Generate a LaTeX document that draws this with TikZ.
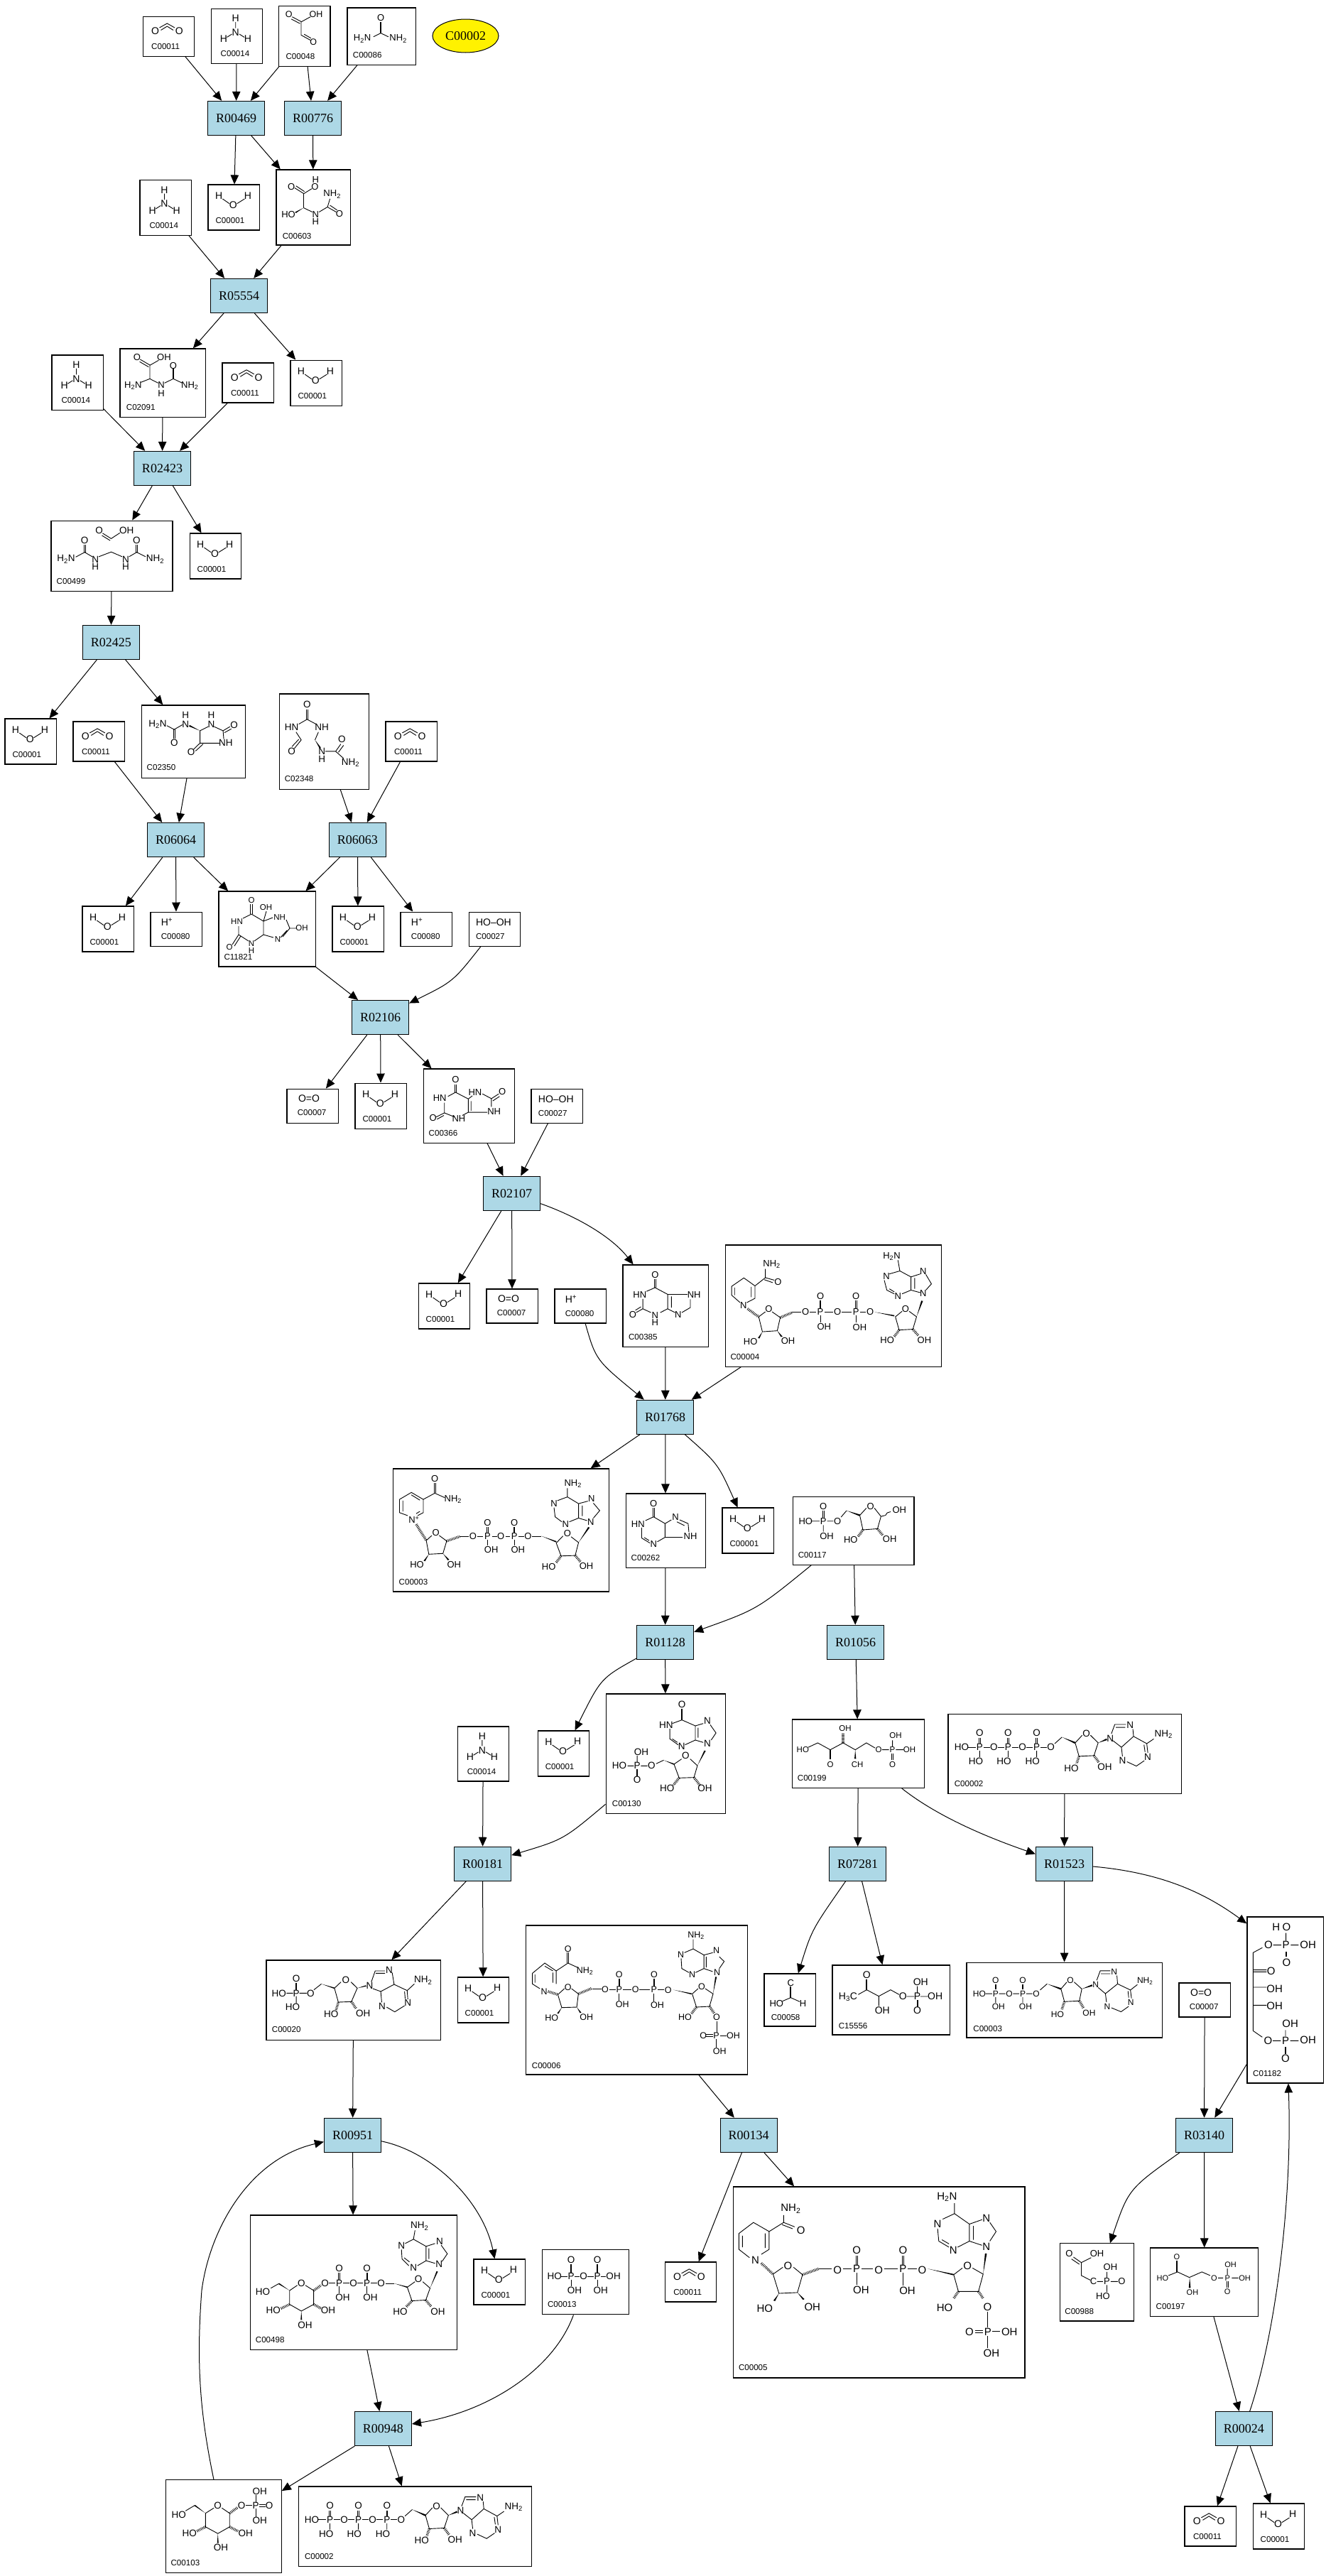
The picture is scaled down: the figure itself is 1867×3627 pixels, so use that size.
\documentclass[tikz,border=0pt]{standalone}
\usepackage{fontspec}
\setmainfont{Liberation Sans}
\newfontfamily\rfont{Liberation Serif}
\usetikzlibrary{arrows.meta,calc,shapes.geometric}
\definecolor{rxnblue}{RGB}{173,216,230}
\newcounter{atomc}
\def\afs{13}
\tikzset{
 cbox/.style={draw=black,line width=1.2pt,fill=white,inner sep=0pt,anchor=north west},
 rbox/.style={draw=black,line width=1.2pt,fill=rxnblue,anchor=center,minimum width=80pt,minimum height=48pt,inner sep=0pt,font=\rfont\fontsize{18}{18}\selectfont},
 clab/.style={anchor=west,inner sep=0pt,font=\fontsize{11.6}{12}\selectfont},
 atomtxt/.style={inner sep=0pt,font=\fontsize{\afs}{\afs}\selectfont},
 bond/.style={draw=black,line width=.9pt},
 hashb/.style={draw=black,line width=3.6pt,dash pattern=on .8pt off 1.3pt},
 conn/.style={draw=black,line width=1pt,-{Triangle[length=13pt,width=11.5pt]}},
 zm/.style n args={4}{shift={(#1,#2)},xscale=#3,yscale=#4}
}
\newcommand\T[3]{\stepcounter{atomc}\node[atomtxt] (atm\arabic{atomc}) at (#1,#2) {#3};}
\newcommand\B[1]{\draw[bond] #1;}
\newcommand\Dv[3]{\draw[bond] ([xshift=-1.6pt]#1,#2)--([xshift=-1.6pt]#1,#3) ([xshift=1.6pt]#1,#2)--([xshift=1.6pt]#1,#3);}
\newcommand\W[4]{\fill[black] (#1,#2) -- ($(#3,#4)!2.4pt!90:(#1,#2)$) -- ($(#3,#4)!2.4pt!-90:(#1,#2)$) -- cycle;}
\newcommand\Hs[4]{\draw[hashb] (#1,#2)--(#3,#4);}
\newcommand\E[2]{\draw[conn] (#1) -- (#2);}
\newcommand\boxat[8]{%
 \node[cbox,minimum width=#4pt,minimum height=#5pt] (#1) at (#2,#3) {};
 \node[clab] (#1-l) at ([xshift=#6pt,yshift=#7pt]#1.south west) {#8};}
\newcommand\rxn[3]{\node[rbox] (#1) at (#2,#3) {#1};}
\newcommand\water[3]{\boxat{#1}{#2}{#3}{72.3}{64}{11}{14.2}{C00001}
 \begin{scope}[shift={(#1.north west)}]\def\afs{14}
 \T{15.7}{16.2}{H}\T{36}{29}{O}\T{56.6}{15.8}{H}
 \B{(21,20.6)--(30.6,27.3) (41.3,27.3)--(52,20.6)}
 \end{scope}}
\newcommand\cotwo[3]{\boxat{#1}{#2}{#3}{72.3}{56}{12.5}{14.3}{C00011}
 \begin{scope}[shift={(#1.north west)}]\def\afs{14}
 \T{18}{21}{O}\T{51.7}{21}{O}
 \B{(24,16.5)--(34.8,10.5)--(45.5,16.5) (26,20)--(34.8,14.5) (34.8,14.5)--(43.5,20)}
 \end{scope}}
\newcommand\nhthree[5]{\boxat{#1}{#2}{#3}{#4}{#5}{14}{14}{C00014}
 \begin{scope}[shift={(#1.north west)}]\def\afs{14}
 \T{35.2}{14.6}{H}\T{35.2}{34}{N}\T{18.4}{43.5}{H}\T{52.4}{43.5}{H}
 \B{(35.2,19.5)--(35.2,28) (30,36.5)--(23,41) (40.5,36.5)--(47.5,41)}
 \end{scope}}
\newcommand\hplus[3]{\boxat{#1}{#2}{#3}{72.3}{48}{15.3}{14.5}{C00080}
 \node[atomtxt,anchor=west,font=\fontsize{14}{14}\selectfont] (#1-m) at ([xshift=15.3pt,yshift=-14.7pt]#1.north west) {H\textsuperscript{+}};}
\newcommand\perox[3]{\boxat{#1}{#2}{#3}{72.3}{48}{10.3}{14.5}{C00027}
 \node[atomtxt,anchor=west,font=\fontsize{14}{14}\selectfont] (#1-m) at ([xshift=10.3pt,yshift=-14.7pt]#1.north west) {HO--OH};}
\newcommand\oxyg[3]{\boxat{#1}{#2}{#3}{72.3}{48}{15.3}{15}{C00007}
 \node[atomtxt,anchor=west,font=\fontsize{14}{14}\selectfont] (#1-m) at ([xshift=16.5pt,yshift=-14.5pt]#1.north west) {O=O};}
\newcommand\atp[2]{\begin{scope}[zm={#1}{#2}{.4892}{.5102}]\def\afs{13.5}
 \T{571}{706}{O}\T{653}{706}{O}\T{735}{706}{O}\T{519}{745}{HO}\T{571}{745}{P}\T{612}{745}{O}\T{653}{745}{P}\T{694}{745}{O}\T{735}{745}{P}\T{776}{745}{O}
 \T{560}{784}{HO}\T{641}{784}{HO}\T{723}{784}{HO}\T{878}{708}{O}\T{947}{720}{N}\T{1004}{684}{N}\T{1100}{710}{NH\textsubscript{2}}\T{1055}{772}{N}\T{982}{782}{N}\T{835}{803}{HO}\T{931}{800}{OH}
 \Dv{571}{720}{735}\Dv{653}{720}{735}\Dv{735}{720}{735}
 \B{(537,745)--(560,745) (582,745)--(600,745) (623,745)--(642,745) (664,745)--(682,745) (705,745)--(724,745) (746,745)--(765,745)}
 \B{(571,755)--(571,772) (653,755)--(653,772) (735,755)--(735,772) (787,735)--(808,717)}
 \W{808}{717}{846}{733}
 \B{(846,733)--(866,712) (890,712)--(912,733)--(900,768)--(857,770)--(846,733)}
 \Hs{857}{770}{850}{790}\Hs{900}{768}{915}{788}\W{912}{733}{937}{723}
 \B{(950,708)--(960,682)--(992,682) (963,690)--(990,690) (1012,695)--(1014,715) (955,727)--(979,745)--(1014,715)--(1052,735)--(1055,760) (1044,738)--(1047,758) (1045,782)--(1022,797)--(995,785) (979,745)--(982,770) (1052,735)--(1072,722)}
 \end{scope}}
\begin{document}
\begin{tikzpicture}[x=1pt,y=-1pt]
\useasboundingbox (0,0) rectangle (1867,3627);
\fill[white] (0,0) rectangle (1867,3627);
% ---------- reactions
\rxn{R00469}{332.5}{166.4}\rxn{R00776}{440.5}{166.4}\rxn{R05554}{336.6}{416.4}\rxn{R02423}{228.5}{659.4}
\rxn{R02425}{156.3}{904.4}\rxn{R06064}{247.5}{1182.5}\rxn{R06063}{503.4}{1182.5}\rxn{R02106}{535.6}{1432.6}
\rxn{R02107}{720.6}{1680.3}\rxn{R01768}{936.7}{1995.3}\rxn{R01128}{936.6}{2312.3}\rxn{R01056}{1204.7}{2312.3}
\rxn{R00181}{679.5}{2624.3}\rxn{R07281}{1207.6}{2624.4}\rxn{R01523}{1498.5}{2624.4}\rxn{R00951}{496.5}{3006.3}
\rxn{R00134}{1054.2}{3006.3}\rxn{R03140}{1695.5}{3006.3}\rxn{R00948}{539.4}{3419.5}\rxn{R00024}{1751.4}{3419.5}
\node[ellipse,draw=black,line width=1pt,fill=yellow,minimum width=93pt,minimum height=47pt,inner sep=0pt,font=\rfont\fontsize{18}{18}\selectfont] (c00002y) at (655.5,50.5) {C00002};
% ---------- small compounds
\cotwo{c00011a}{200.5}{22.5}\cotwo{c00011b}{312.3}{510.3}\cotwo{c00011c}{102.3}{1015.4}\cotwo{c00011d}{542.4}{1015.4}\cotwo{c00011e}{935.6}{3184.3}\cotwo{c00011f}{1667.4}{3528.3}
\nhthree{c00014a}{296.5}{11.5}{72.3}{77}\nhthree{c00014b}{196.3}{253}{72.3}{77.6}\nhthree{c00014d}{72.3}{499.3}{72.4}{77.4}\nhthree{c00014c}{643.6}{2430.3}{72}{77}
\water{c00001a}{292.4}{259.4}\water{c00001b}{408.3}{506.5}\water{c00001c}{266.5}{750.4}\water{c00001d}{6.3}{1011.4}\water{c00001e}{115.4}{1275.4}\water{c00001f}{467.3}{1275.4}\water{c00001g}{499.4}{1524.5}\water{c00001h}{588.5}{1806.3}\water{c00001i}{1016.4}{2122.4}\water{c00001j}{756.6}{2436.3}\water{c00001k}{643.5}{2783.3}\water{c00001l}{666.4}{3180.3}\water{c00001m}{1763.5}{3524.3}
\hplus{c00080a}{211.3}{1283.5}\hplus{c00080b}{563.4}{1283.5}\hplus{c00080c}{780.3}{1814.4}
\perox{c00027a}{659.5}{1283.5}\perox{c00027b}{747.4}{1532.5}
\oxyg{c00007a}{403.3}{1532.5}\oxyg{c00007b}{684.3}{1814.4}\oxyg{c00007c}{1659.4}{2791.4}
% ---------- boxes with structures
\boxat{c00048}{392}{7.5}{72.3}{85}{10.4}{14.5}{C00048}
\begin{scope}[zm={150}{0}{.3827}{.3954}]\def\afs{12.5}
\T{671}{52}{O}\T{771}{52}{OH}\T{761}{150}{O}
\B{(683,60)--(718,78) (680,68)--(712,84) (718,77)--(750,60) (716,77)--(716,125)--(750,143) (727,122)--(752,136)}
\end{scope}
\boxat{c00086}{488.3}{10.3}{96.4}{80.3}{8.4}{14.5}{C00086}
\begin{scope}[zm={150}{0}{.3827}{.3954}]\def\afs{13}
\T{1009}{64}{O}\T{941}{138}{H\textsubscript{2}N}\T{1073}{138}{NH\textsubscript{2}}
\Dv{1009}{78}{118}\B{(1009,118)--(982,131) (1009,118)--(1037,131)}
\end{scope}
\boxat{c00603}{388.4}{238.4}{104.1}{106}{9.2}{13.4}{C00603}
\begin{scope}[zm={150}{0}{.3827}{.3954}]\def\afs{13}
\T{769}{639}{H}\T{767}{664}{O}\T{680}{664}{O}\T{830}{692}{NH\textsubscript{2}}\T{669}{763}{HO}\T{769}{763}{N}\T{769}{790}{H}\T{857}{762}{O}
\B{(692,669)--(725,689) (697,662)--(728,682) (725,690)--(755,672) (725,690)--(725,740) (725,740)--(757,755) (782,755)--(813,737)--(822,708) (814,738)--(845,755) (822,731)--(848,748)}
\W{725}{740}{695}{757}
\end{scope}
\boxat{c02091}{168.3}{490.3}{120.4}{96.4}{9.4}{14.4}{C02091}
\begin{scope}[zm={50}{480}{.3333}{.3333}]\def\afs{13}
\T{429}{70}{O}\T{543}{70}{OH}\T{582}{104}{O}\T{412}{188}{H\textsubscript{2}N}\T{531}{187}{N}\T{531}{222}{H}\T{652}{188}{NH\textsubscript{2}}
\B{(442,78)--(483,102) (440,88)--(478,110) (483,103)--(520,82) (483,103)--(483,160)--(445,175) (483,160)--(518,178) (545,178)--(582,160)--(620,178)}
\Dv{582}{118}{160}
\end{scope}
\boxat{c00499}{71.3}{732.5}{171}{99}{8.2}{14.7}{C00499}
\begin{scope}[zm={0}{620}{.4847}{.4464}]\def\afs{13.5}
\T{288}{285}{O}\T{368}{285}{OH}\T{246}{315}{O}\T{397}{315}{O}\T{192}{375}{H\textsubscript{2}N}\T{277}{375}{N}\T{277}{399}{H}\T{365}{375}{N}\T{365}{399}{H}\T{451}{375}{NH\textsubscript{2}}
\B{(298,293)--(323,310)--(348,292) (296,300)--(320,316)}
\Dv{246}{330}{353}\Dv{397}{330}{353}
\B{(246,353)--(220,368) (246,353)--(268,367) (287,367)--(323,352)--(355,367) (375,367)--(397,353)--(423,367)}
\end{scope}
\boxat{c02350}{198.7}{992.3}{146}{102.3}{7.8}{15.6}{C02350}
\begin{scope}[zm={0}{620}{.4847}{.4464}]\def\afs{13.5}
\T{458}{895}{H\textsubscript{2}N}\T{539}{895}{N}\T{539}{867}{H}\T{614}{867}{H}\T{614}{895}{N}\T{680}{897}{O}\T{506}{955}{O}\T{656}{955}{NH}\T{555}{984}{O}
\B{(506,912)--(485,900) (506,912)--(530,897) (581,916)--(605,903) (622,903)--(648,916) (648,916)--(668,903) (652,922)--(672,910) (648,916)--(650,942) (637,955)--(581,955)--(581,916) (581,955)--(562,975) (590,958)--(568,980)}
\Dv{506}{912}{940}\W{581}{916}{550}{900}
\end{scope}
\boxat{c02348}{392.6}{976.3}{126}{134.3}{8}{15.6}{C02348}
\begin{scope}[zm={0}{620}{.4847}{.4464}]\def\afs{13.5}
\T{892}{833}{O}\T{847}{905}{HN}\T{935}{905}{NH}\T{847}{981}{O}\T{935}{981}{N}\T{935}{1005}{H}\T{993}{943}{O}\T{1018}{1017}{NH\textsubscript{2}}
\Dv{892}{848}{880}
\B{(892,880)--(868,895) (892,880)--(918,895) (860,920)--(875,945)--(855,972) (868,943)--(848,966) (925,920)--(915,945) (945,981)--(975,981)--(998,1003) (975,981)--(990,958) (983,984)--(998,962)}
\W{915}{945}{930}{970}
\end{scope}
\boxat{c11821}{307.3}{1254.4}{136.2}{106}{8}{14.5}{C11821}
\begin{scope}\def\afs{11.5}
\T{354}{1267.7}{O}\T{374.6}{1277.6}{OH}\T{393.6}{1291.8}{NH}\T{333.5}{1297.6}{HN}\T{425}{1307}{OH}\T{391}{1322.8}{N}\T{354}{1329}{N}\T{354}{1339}{H}\T{323}{1334}{O}
\Dv{354}{1273}{1287}
\B{(354,1287)--(342,1293) (354,1287)--(371,1297) (371,1297)--(375,1283) (371,1297)--(384,1292) (371,1297)--(371,1316) (403,1295)--(408,1307) (408,1307)--(417,1307) (408,1307)--(398,1319) (404,1310)--(395,1320) (385,1320)--(371,1316)--(358,1325) (350,1325)--(336,1316)--(336,1304) (336,1316)--(327,1330) (339,1318)--(330,1332)}
\end{scope}
\boxat{c00366}{595.5}{1504.4}{128.2}{104.1}{8}{14.7}{C00366}
\begin{scope}[zm={380}{1200}{.3827}{.4464}]\def\afs{13}
\T{683}{717}{O}\T{625}{775}{HN}\T{755}{757}{HN}\T{855}{755}{O}\T{825}{817}{NH}\T{600}{838}{O}\T{695}{840}{NH}
\Dv{683}{732}{757}
\B{(683,757)--(655,770) (683,757)--(730,778)--(730,820)--(800,820) (740,785)--(740,815) (730,778)--(745,768) (782,762)--(815,777)--(815,803) (815,777)--(842,762) (820,784)--(845,770) (730,820)--(708,830) (680,835)--(642,822)--(642,790) (642,822)--(612,835) (640,830)--(615,842)}
\end{scope}
\boxat{c00385}{876.4}{1780.3}{120.3}{115.2}{8.4}{14.4}{C00385}
\begin{scope}[zm={540}{1720}{.523}{.3508}]\def\afs{13}
\T{731}{214}{O}\T{690}{294}{HN}\T{836}{294}{NH}\T{671}{373}{O}\T{731}{375}{N}\T{731}{405}{H}\T{793}{373}{N}
\Dv{731}{230}{265}
\B{(731,265)--(708,280) (731,265)--(765,292)--(765,350) (775,300)--(775,345) (765,292)--(818,292) (765,350)--(745,365) (720,365)--(698,350)--(698,310) (698,350)--(680,365) (693,342)--(678,356) (765,350)--(785,365) (803,365)--(826,345)--(826,312)}
\end{scope}
\boxat{c00004}{1020.6}{1752.3}{304}{171.2}{7.8}{14.4}{C00004}
\begin{scope}[zm={540}{1720}{.523}{.3508}]\def\afs{13}
\T{1045}{172}{NH\textsubscript{2}}\T{1062}{242}{O}\T{1368}{140}{H\textsubscript{2}N}\T{1354}{220}{N}\T{1453}{200}{N}\T{1385}{300}{N}\T{1453}{288}{N}\T{969}{335}{N}\T{1037}{352}{O}\T{1136}{362}{O}\T{1176}{362}{P}\T{1176}{300}{O}\T{1186}{423}{OH}\T{1222}{362}{O}\T{1272}{362}{P}\T{1272}{300}{O}\T{1282}{425}{OH}\T{1310}{362}{O}\T{1405}{350}{O}\T{988}{483}{HO}\T{1089}{479}{OH}\T{1356}{476}{HO}\T{1456}{476}{OH}
\B{(937,260)--(970,226)--(1000,258)--(1000,308)--(978,325) (960,325)--(937,295)--(937,260) (945,265)--(945,295) (990,262)--(990,303) (1000,258)--(1028,225)--(1028,190) (1028,225)--(1052,235) (1025,233)--(1048,245)}
\Hs{980}{350}{1010}{382}
\B{(1010,382)--(1028,362) (1046,362)--(1068,385)--(1060,438)--(1020,442)--(1010,382)}
\W{1020}{442}{1010}{468}\W{1060}{438}{1072}{462}\Hs{1068}{385}{1100}{365}
\B{(1100,362)--(1125,362) (1148,362)--(1165,362) (1187,362)--(1210,362) (1234,362)--(1260,362) (1283,362)--(1298,362) (1176,375)--(1176,405) (1272,375)--(1272,405)}
\Dv{1176}{315}{350}\Dv{1272}{315}{350}
\W{1322}{363}{1375}{378}
\B{(1378,382)--(1396,360) (1415,360)--(1435,382)--(1425,432)--(1388,435)--(1378,382)}
\W{1435}{382}{1450}{318}\Hs{1388}{435}{1375}{462}\Hs{1425}{432}{1440}{458}
\B{(1390,198)--(1385,155) (1390,198)--(1420,222)--(1420,275)--(1396,290) (1390,198)--(1362,210) (1348,235)--(1355,275)--(1375,290) (1420,222)--(1445,210) (1460,212)--(1475,250)--(1460,275) (1420,275)--(1445,285) (1430,226)--(1430,270) (1362,270)--(1375,282)}
\end{scope}
\boxat{c00003a}{552.6}{2067.3}{304}{173}{8.9}{14.4}{C00003}
\begin{scope}[zm={540}{1720}{.523}{.3508}]\def\afs{13}
\T{138}{1033}{O}\T{187}{1115}{NH\textsubscript{2}}\T{82}{1197}{N\textsuperscript{+}}\T{510}{1052}{NH\textsubscript{2}}\T{459}{1133}{N}\T{560}{1113}{N}\T{490}{1215}{N}\T{558}{1207}{N}\T{141}{1248}{O}\T{241}{1264}{O}\T{280}{1264}{P}\T{280}{1210}{O}\T{290}{1317}{OH}\T{316}{1264}{O}\T{352}{1264}{P}\T{352}{1210}{O}\T{362}{1317}{OH}\T{389}{1264}{O}\T{495}{1252}{O}\T{90}{1378}{HO}\T{190}{1378}{OH}\T{445}{1385}{HO}\T{546}{1383}{OH}
\B{(43,1115)--(75,1087)--(107,1115)--(107,1168)--(92,1180) (65,1180)--(43,1168)--(43,1115) (52,1120)--(52,1163) (75,1097)--(98,1118) (98,1163)--(88,1172) (107,1115)--(138,1090)--(165,1108)}
\Dv{138}{1050}{1090}
\Hs{88}{1215}{115}{1280}
\B{(115,1280)--(130,1260) (150,1260)--(170,1282)--(160,1332)--(122,1335)--(115,1280)}
\W{122}{1335}{110}{1362}\W{160}{1332}{175}{1358}\Hs{170}{1282}{205}{1264}
\B{(205,1264)--(230,1264) (252,1264)--(268,1264) (292,1264)--(305,1264) (328,1264)--(340,1264) (364,1264)--(378,1264) (400,1264)--(425,1264) (280,1277)--(280,1300) (352,1277)--(352,1300)}
\Dv{280}{1225}{1252}\Dv{352}{1225}{1252}
\W{425}{1262}{465}{1285}
\B{(465,1290)--(483,1262) (505,1265)--(525,1288)--(516,1340)--(478,1342)--(465,1290)}
\W{525}{1288}{553}{1227}\Hs{478}{1342}{465}{1368}\Hs{516}{1340}{530}{1365}
\B{(495,1105)--(495,1070) (495,1105)--(468,1120) (495,1105)--(525,1132)--(525,1190)--(500,1205) (459,1148)--(462,1185)--(480,1205) (535,1140)--(535,1182) (525,1132)--(550,1122) (565,1130)--(582,1160)--(565,1190) (525,1190)--(548,1200)}
\end{scope}
\boxat{c00262}{880.5}{2102.4}{112}{104.2}{8}{14.4}{C00262}
\begin{scope}[zm={540}{1720}{.523}{.3508}]\def\afs{13}
\T{727}{1133}{O}\T{685}{1213}{HN}\T{786}{1187}{N}\T{826}{1263}{NH}\T{727}{1295}{N}
\Dv{727}{1150}{1185}
\B{(727,1185)--(705,1200) (727,1185)--(758,1212)--(758,1267)--(805,1267) (758,1212)--(775,1197) (797,1197)--(820,1212)--(822,1245) (790,1205)--(810,1220) (758,1267)--(737,1285) (717,1290)--(695,1270)--(695,1228) (702,1268)--(715,1280)}
\end{scope}
\boxat{c00117}{1115.8}{2106.5}{170.6}{96}{7.8}{14.3}{C00117}
\begin{scope}[zm={1100}{2080}{.4892}{.5102}]\def\afs{13}
\T{121}{80}{O}\T{70}{121}{HO}\T{121}{121}{P}\T{162}{121}{O}\T{131}{162}{OH}\T{257}{80}{O}\T{340}{90}{OH}\T{200}{172}{HO}\T{312}{170}{OH}
\Dv{121}{92}{111}
\B{(85,121)--(110,121) (132,121)--(150,121) (121,132)--(121,150) (172,110)--(188,92)}
\W{188}{92}{226}{105}
\B{(226,105)--(245,85) (268,85)--(287,108)--(277,142)--(235,145)--(226,105) (287,108)--(300,105)--(305,98)--(315,95)}
\Hs{235}{145}{220}{165}\Hs{277}{142}{292}{160}
\end{scope}
\boxat{c00130}{852.5}{2384.3}{168.2}{168.4}{9.2}{14.3}{C00130}
\begin{scope}[zm={600}{2250}{.4847}{.3333}]\def\afs{13.5}
\T{743}{451}{O}\T{697}{538}{HN}\T{817}{520}{N}\T{742}{628}{N}\T{817}{615}{N}\T{754}{666}{O}\T{625}{652}{OH}\T{561}{709}{HO}\T{613}{709}{P}\T{655}{709}{O}\T{613}{768}{O}\T{700}{804}{HO}\T{810}{804}{OH}
\Dv{743}{467}{515}
\B{(743,515)--(715,530) (743,515)--(782,540)--(782,600) (790,548)--(790,590) (782,540)--(805,530) (825,535)--(842,570)--(828,600) (782,600)--(805,610) (782,600)--(752,620) (732,620)--(708,595)--(708,552) (715,595)--(730,610)}
\B{(613,666)--(613,695) (585,709)--(603,709) (624,709)--(643,709) (668,700)--(690,685)}
\Dv{613}{722}{752}
\W{690}{685}{720}{702}
\B{(720,702)--(742,680) (767,680)--(788,708)--(778,758)--(735,760)--(720,702)}
\Hs{735}{760}{718}{790}\Hs{778}{758}{795}{790}\W{788}{708}{810}{645}
\end{scope}
\boxat{c00199}{1114.7}{2420.3}{186}{96.4}{8}{14.8}{C00199}
\begin{scope}[zm={1100}{2080}{.4892}{.5102}]\def\afs{11.5}
\T{184}{693}{OH}\T{62}{752}{HO}\T{141}{792}{O}\T{219}{792}{CH}\T{329}{713}{OH}\T{280}{752}{O}\T{320}{752}{P}\T{369}{752}{OH}\T{320}{792}{O}
\B{(78,745)--(105,733)--(141,752)--(178,733)--(213,752)--(245,733)--(270,747) (290,752)--(310,752) (330,752)--(352,752) (320,726)--(320,743)}
\Dv{141}{752}{778}\Dv{320}{762}{780}
\Hs{178}{733}{178}{705}\W{213}{752}{213}{777}
\end{scope}
\boxat{c00002b}{1334.3}{2412.5}{328.3}{112}{9.3}{14.3}{C00002}
\atp{1100}{2080}
\boxat{c00058}{1075.3}{2778.3}{72.4}{74}{10.3}{13.3}{C00058}
\begin{scope}[zm={1050}{2640}{.3333}{.3333}]\def\afs{13}
\T{190}{455}{C}\T{130}{542}{HO}\T{242}{542}{H}
\Dv{190}{470}{518}\B{(155,533)--(190,518)--(228,535)}
\end{scope}
\boxat{c15556}{1171.3}{2766.3}{165.4}{98}{9.3}{13.3}{C15556}
\begin{scope}[zm={1050}{2640}{.3333}{.3333}]\def\afs{14}
\T{511}{423}{O}\T{432}{515}{H\textsubscript{3}C}\T{664}{513}{O}\T{725}{513}{P}\T{739}{453}{OH}\T{800}{513}{OH}\T{577}{573}{OH}\T{725}{573}{O}
\Dv{511}{440}{485}\Dv{725}{528}{558}
\B{(475,505)--(511,485)--(562,512)--(612,485)--(648,505) (562,512)--(562,553) (680,513)--(712,513) (738,513)--(770,513) (725,470)--(725,500)}
\end{scope}
\boxat{c00003b}{1360.4}{2762.5}{275.3}{105.8}{9.8}{13.3}{C00003}
\begin{scope}[zm={1100}{2080}{.4892}{.5102}]\def\afs{12}
\T{617}{1388}{O}\T{695}{1388}{O}\T{570}{1425}{HO}\T{617}{1425}{P}\T{656}{1425}{O}\T{695}{1425}{P}\T{734}{1425}{O}\T{625}{1461}{OH}\T{703}{1461}{OH}\T{832}{1389}{O}\T{905}{1400}{N}\T{958}{1365}{N}\T{1047}{1391}{NH\textsubscript{2}}\T{1006}{1450}{N}\T{938}{1460}{N}\T{795}{1483}{HO}\T{886}{1478}{OH}
\Dv{617}{1400}{1414}\Dv{695}{1400}{1414}
\B{(588,1425)--(607,1425) (627,1425)--(645,1425) (667,1425)--(685,1425) (705,1425)--(723,1425) (617,1435)--(617,1450) (695,1435)--(695,1450) (745,1415)--(765,1398)}
\W{765}{1398}{805}{1412}
\B{(805,1412)--(822,1393) (843,1393)--(865,1412)--(858,1445)--(815,1447)--(805,1412)}
\Hs{815}{1447}{808}{1468}\Hs{858}{1445}{870}{1465}\W{865}{1412}{895}{1402}
\B{(908,1388)--(918,1362)--(947,1362) (920,1370)--(947,1370) (966,1375)--(968,1398) (912,1408)--(933,1425)--(968,1398)--(1005,1415)--(1008,1438) (998,1418)--(1000,1436) (1000,1460)--(978,1475)--(950,1464) (933,1425)--(936,1448) (1005,1415)--(1025,1400)}
\end{scope}
\boxat{c01182}{1755.3}{2698.3}{107.4}{234}{8.7}{14.3}{C01182}
\begin{scope}[zm={1620}{2680}{.3333}{.3333}]\def\afs{15}
\T{530}{100}{H}\T{574}{100}{O}\T{498}{176}{O}\T{572}{176}{P}\T{665}{176}{OH}\T{574}{249}{O}\T{509}{286}{O}\T{524}{360}{OH}\T{524}{434}{OH}\T{590}{507}{OH}\T{496}{580}{O}\T{570}{580}{P}\T{665}{578}{OH}\T{570}{655}{O}
\B{(572,125)--(572,158) (518,176)--(552,176) (592,176)--(625,176) (472,187)--(433,208)--(433,538)--(472,565) (433,281)--(490,281) (433,289)--(490,289) (433,354)--(490,354) (433,430)--(490,430) (516,580)--(550,580) (590,580)--(625,580) (570,535)--(570,562)}
\Dv{572}{205}{225}\Dv{570}{607}{635}
\end{scope}
\boxat{c00020}{374.4}{2759.3}{245.3}{112.4}{8.3}{15.7}{C00020}
\begin{scope}[zm={340}{2700}{.4592}{.3333}]\def\afs{13.5}
\T{168}{258}{O}\T{115}{319}{HO}\T{168}{319}{P}\T{212}{319}{O}\T{157}{378}{HO}\T{320}{262}{O}\T{393}{287}{N}\T{453}{222}{N}\T{557}{265}{NH\textsubscript{2}}\T{510}{360}{N}\T{431}{375}{N}\T{275}{408}{HO}\T{373}{403}{OH}
\Dv{168}{275}{305}
\B{(138,319)--(158,319) (178,319)--(200,319) (168,332)--(168,362) (222,305)--(245,280)}
\W{245}{280}{285}{298}
\B{(285,298)--(305,272) (336,272)--(355,298)--(337,355)--(297,357)--(285,298)}
\Hs{297}{357}{290}{390}\Hs{337}{355}{352}{385}\W{355}{298}{382}{288}
\B{(398,272)--(410,225)--(440,225) (412,235)--(440,235) (462,232)--(468,282) (403,300)--(427,312)--(468,282)--(508,308)--(510,345) (500,312)--(502,342) (427,312)--(430,358) (445,378)--(470,398)--(500,372) (508,308)--(530,280)}
\end{scope}
\boxat{c00006}{739.5}{2710.3}{312.3}{210}{9.2}{13.3}{C00006}
\begin{scope}[zm={340}{2700}{.4592}{.3333}]\def\afs{12.5}
\T{1001}{131}{O}\T{1053}{225}{NH\textsubscript{2}}\T{928}{312}{N}\T{1394}{75}{NH\textsubscript{2}}\T{1347}{158}{N}\T{1456}{140}{N}\T{1382}{242}{N}\T{1458}{232}{N}\T{1001}{295}{O}\T{1115}{305}{O}\T{1158}{305}{P}\T{1158}{242}{O}\T{1168}{368}{OH}\T{1208}{305}{O}\T{1265}{305}{P}\T{1265}{242}{O}\T{1275}{370}{OH}\T{1308}{307}{O}\T{1411}{291}{O}\T{951}{425}{HO}\T{1058}{422}{OH}\T{1360}{422}{HO}\T{1457}{422}{O}\T{1416}{498}{O}\T{1456}{498}{P}\T{1508}{498}{OH}\T{1466}{565}{OH}
\B{(892,235)--(930,192)--(965,225)--(965,280) (892,235)--(892,280)--(915,300) (900,240)--(900,275) (930,205)--(955,225) (955,232)--(955,275) (965,225)--(1001,192)--(1033,212)}
\Dv{1001}{147}{192}
\Hs{940}{312}{970}{325}
\B{(970,325)--(990,300) (1012,300)--(1033,322)--(1028,378)--(982,380)--(970,325)}
\W{982}{380}{970}{405}\W{1028}{378}{1040}{402}\Hs{1033}{322}{1075}{298}
\B{(1075,302)--(1103,302) (1127,305)--(1147,305) (1170,305)--(1196,305) (1220,305)--(1252,305) (1277,305)--(1296,305) (1158,320)--(1158,352) (1265,320)--(1265,355)}
\Dv{1158}{258}{292}\Dv{1265}{258}{292}
\W{1325}{305}{1380}{322}
\B{(1382,322)--(1400,300) (1422,300)--(1446,322)--(1435,375)--(1395,378)--(1382,322)}
\Hs{1395}{378}{1380}{405}\Hs{1435}{375}{1450}{405}\W{1446}{322}{1455}{250}
\B{(1385,132)--(1385,92) (1385,132)--(1358,148) (1385,132)--(1418,158)--(1418,215)--(1392,232) (1348,172)--(1350,215)--(1372,232) (1425,165)--(1425,210) (1418,158)--(1445,148) (1465,165)--(1480,185)--(1465,215) (1418,215)--(1445,228)}
\B{(1457,438)--(1457,485) (1425,494)--(1445,494) (1425,502)--(1445,502) (1467,498)--(1488,498) (1456,512)--(1456,550)}
\end{scope}
\boxat{c00498}{351.5}{3118.4}{291}{189.3}{8.2}{14.8}{C00498}
\begin{scope}[zm={220}{3100}{.4337}{.3361}]\def\afs{13.5}
\T{855}{102}{NH\textsubscript{2}}\T{796}{185}{N}\T{920}{165}{N}\T{835}{275}{N}\T{918}{262}{N}\T{851}{323}{O}\T{594}{280}{O}\T{684}{280}{O}\T{548}{341}{O}\T{594}{341}{P}\T{640}{341}{O}\T{684}{341}{P}\T{730}{341}{O}\T{605}{400}{OH}\T{695}{400}{OH}\T{471}{341}{O}\T{346}{376}{HO}\T{380}{456}{HO}\T{558}{456}{OH}\T{483}{516}{OH}\T{792}{460}{HO}\T{914}{460}{OH}
\B{(835,157)--(840,120) (835,157)--(808,175) (835,157)--(876,187)--(876,247)--(848,268) (885,195)--(885,240) (876,187)--(905,175) (925,182)--(945,218)--(928,250) (876,247)--(905,258) (820,268)--(798,240)--(796,200) (805,235)--(822,252)}
\W{889}{362}{912}{292}
\B{(889,362)--(865,335) (840,335)--(815,358)--(830,415)--(875,412)--(889,362)}
\Hs{830}{415}{812}{440}\Hs{875}{412}{893}{440}\W{772}{342}{815}{358}
\B{(745,342)--(772,342) (696,341)--(716,341) (652,341)--(672,341) (606,341)--(628,341) (560,341)--(582,341) (594,354)--(594,385) (684,354)--(684,385)}
\Dv{594}{297}{328}\Dv{684}{297}{328}
\B{(458,350)--(433,372)--(433,430)--(471,458)--(511,430)--(511,372)--(484,350)}
\Hs{511}{372}{535}{350}\W{433}{372}{398}{343}\B{(398,343)--(372,362)}
\Hs{433}{430}{405}{447}\Hs{511}{430}{535}{447}\W{471}{458}{471}{495}
\end{scope}
\boxat{c00013}{762.6}{3167.2}{122}{91}{8.2}{14.5}{C00013}
\begin{scope}[zm={220}{3100}{.4337}{.3361}]\def\afs{13.5}
\T{1347}{244}{O}\T{1432}{244}{O}\T{1293}{313}{HO}\T{1347}{313}{P}\T{1387}{313}{O}\T{1432}{313}{P}\T{1484}{313}{OH}\T{1358}{370}{OH}\T{1443}{370}{OH}
\Dv{1347}{262}{300}\Dv{1432}{262}{300}
\B{(1315,313)--(1336,313) (1358,313)--(1375,313) (1399,313)--(1420,313) (1443,313)--(1460,313) (1347,326)--(1347,355) (1432,326)--(1432,355)}
\end{scope}
\boxat{c00005}{1031.5}{3078.4}{410.8}{269}{8.3}{14.7}{C00005}
\begin{scope}[zm={1000}{3020}{.5529}{.3871}]\def\afs{15}
\T{205}{232}{NH\textsubscript{2}}\T{231}{310}{O}\T{603}{190}{H\textsubscript{2}N}\T{579}{288}{N}\T{703}{268}{N}\T{619}{383}{N}\T{703}{370}{N}\T{115}{420}{N}\T{198}{440}{O}\T{324}{455}{O}\T{373}{451}{P}\T{373}{383}{O}\T{384}{527}{OH}\T{429}{455}{O}\T{491}{451}{P}\T{491}{383}{O}\T{502}{530}{OH}\T{540}{455}{O}\T{655}{440}{O}\T{139}{595}{HO}\T{260}{590}{OH}\T{597}{592}{HO}\T{706}{590}{O}\T{660}{680}{O}\T{707}{680}{P}\T{762}{680}{OH}\T{716}{757}{OH}
\B{(73,322)--(110,282)--(150,315)--(150,380)--(130,398) (100,410)--(73,380)--(73,322) (82,330)--(82,372) (140,322)--(140,375) (150,315)--(187,282)--(187,255) (187,282)--(215,298) (183,290)--(210,305)}
\Hs{130}{430}{160}{470}
\B{(160,470)--(185,445) (212,445)--(235,472)--(222,537)--(175,540)--(160,470)}
\W{175}{540}{163}{567}\W{222}{537}{238}{562}\Hs{235}{472}{277}{450}
\B{(277,450)--(310,450) (338,450)--(360,450) (385,450)--(415,450) (443,450)--(478,450) (503,450)--(527,450) (373,465)--(373,510) (491,465)--(491,512)}
\Dv{373}{403}{438}\Dv{491}{403}{438}
\W{553}{450}{620}{472}
\B{(620,472)--(642,448) (668,448)--(695,470)--(683,533)--(632,533)--(620,472)}
\Hs{632}{533}{620}{558}\Hs{683}{533}{695}{558}\W{695}{470}{702}{395}
\B{(622,250)--(622,212) (622,250)--(592,270) (622,250)--(660,288)--(660,350)--(630,372) (670,295)--(670,345) (660,288)--(692,272) (712,282)--(728,315)--(712,350) (660,350)--(692,365) (608,372)--(582,350)--(579,305) (590,345)--(608,360)}
\B{(706,607)--(706,665) (674,676)--(695,676) (674,684)--(695,684) (718,678)--(738,678) (707,695)--(707,740)}
\end{scope}
\boxat{c00988}{1491.5}{3158.2}{104}{109.2}{7.7}{14}{C00988}
\begin{scope}[zm={1000}{3020}{.5529}{.3871}]\def\afs{13}
\T{914}{396}{O}\T{985}{396}{OH}\T{1019}{445}{OH}\T{976}{497}{C}\T{1010}{497}{P}\T{1048}{497}{O}\T{1000}{550}{HO}
\B{(925,408)--(945,428) (920,415)--(940,434) (945,428)--(970,410) (945,428)--(945,475)--(968,492) (985,497)--(1000,497) (1020,497)--(1038,497) (1010,462)--(1010,485) (1010,510)--(1010,535)}
\end{scope}
\boxat{c00197}{1619.2}{3164.4}{152}{96.5}{8.3}{14.7}{C00197}
\begin{scope}[zm={1000}{3020}{.5529}{.3871}]\def\afs{11}
\T{1188}{407}{O}\T{1325}{436}{OH}\T{1152}{484}{HO}\T{1283}{484}{O}\T{1317}{484}{P}\T{1361}{484}{OH}\T{1228}{537}{OH}\T{1317}{534}{O}
\Dv{1188}{422}{462}\Dv{1317}{497}{520}
\B{(1167,475)--(1190,462)--(1220,482)--(1252,462)--(1273,475) (1293,484)--(1306,484) (1328,484)--(1345,484) (1317,450)--(1317,472)}
\W{1221}{482}{1221}{520}
\end{scope}
\boxat{c00103}{232.6}{3491.2}{163}{131}{7.8}{15}{C00103}
\begin{scope}[zm={220}{3100}{.4337}{.3361}]\def\afs{13.5}
\T{336}{1212}{OH}\T{277}{1273}{O}\T{323}{1273}{P}\T{367}{1273}{O}\T{336}{1336}{OH}\T{200}{1273}{O}\T{73}{1312}{HO}\T{108}{1390}{HO}\T{290}{1390}{OH}\T{210}{1449}{OH}
\B{(323,1228)--(323,1260) (290,1273)--(312,1273) (334,1269)--(355,1269) (334,1277)--(355,1277) (323,1286)--(323,1320)}
\Hs{238}{1305}{265}{1280}
\B{(160,1305)--(187,1283) (213,1283)--(238,1305)--(238,1362)--(200,1390)--(160,1362)--(160,1305)}
\W{160}{1305}{125}{1272}\B{(125,1272)--(95,1295)}
\Hs{160}{1362}{132}{1380}\Hs{238}{1362}{265}{1380}\W{200}{1390}{200}{1430}
\end{scope}
\boxat{c00002c}{419.5}{3500.3}{328.3}{112.3}{9.3}{14.3}{C00002}
\atp{185.2}{3167.6}
% ---------- connectors
\E{c00011a}{R00469}\E{c00014a}{R00469}\E{c00048}{R00469}\E{c00048}{R00776}\E{c00086}{R00776}
\E{R00469}{c00001a}\E{R00469}{c00603}\E{R00776}{c00603}\E{c00014b}{R05554}\E{c00603}{R05554}
\E{R05554}{c02091}\E{R05554}{c00001b}\E{c00014d}{R02423}\E{c02091}{R02423}\E{c00011b}{R02423}
\E{R02423}{c00499}\E{R02423}{c00001c}\E{c00499}{R02425}\E{R02425}{c00001d}\E{R02425}{c02350}
\E{c00011c}{R06064}\E{c02350}{R06064}\E{c02348}{R06063}\E{c00011d}{R06063}
\E{R06064}{c00001e}\E{R06064}{c00080a}\E{R06064}{c11821}\E{R06063}{c11821}\E{R06063}{c00001f}\E{R06063}{c00080b}
\E{c11821}{R02106}
\draw[conn] (c00027a) .. controls (638,1382) .. (R02106);
\E{R02106}{c00007a}\E{R02106}{c00001g}\E{R02106}{c00366}\E{c00366}{R02107}\E{c00027b}{R02107}
\E{R02107}{c00001h}\E{R02107}{c00007b}
\draw[conn] (R02107) .. controls (810,1712) and (860,1740) .. (c00385);
\draw[conn] (c00080c) .. controls (839,1915) .. (R01768);
\E{c00385}{R01768}\E{c00004}{R01768}\E{R01768}{c00003a}\E{R01768}{c00262}
\draw[conn] (R01768) .. controls (1011,2061) .. (c00001i);
\E{c00262}{R01128}
\draw[conn] (c00117) .. controls (1066,2266) .. (R01128);
\E{c00117}{R01056}
\draw[conn] (R01128) .. controls (846,2363) .. (c00001j);
\E{R01128}{c00130}\E{R01056}{c00199}\E{c00014c}{R00181}
\draw[conn] (c00130) .. controls (793.5,2590) .. (R00181);
\E{c00199}{R07281}
\draw[conn] (c00199) .. controls (1310,2550) and (1370,2580) .. (R01523);
\E{c00002b}{R01523}
\draw[conn] (R07281) .. controls (1143,2717) .. (c00058);
\E{R07281}{c15556}\E{R01523}{c00003b}
\draw[conn] (R01523) .. controls (1640,2637) and (1700,2668) .. ([yshift=-10pt]c01182.north west);
\E{c00007c}{R03140}\E{c01182}{R03140}
\draw[conn] (R00024) .. controls (1795,3290) and (1820,3100) .. (c01182);
\draw[conn] (R03140) .. controls (1589,3082) .. (c00988);
\E{R03140}{c00197}\E{c00197}{R00024}\E{R00024}{c00011f}\E{R00024}{c00001m}
\E{R00181}{c00020}\E{R00181}{c00001k}\E{c00020}{R00951}\E{c00006}{R00134}\E{R00951}{c00498}
\draw[conn] (R00951) .. controls (610,3030) and (680,3100) .. (c00001l);
\coordinate (lpmid) at (284,3225);
\draw[conn] (c00103) .. controls (282,3400) and (276,3330) .. (lpmid) .. controls (295,3140) and (350,3040) .. (R00951);
\E{R00134}{c00011e}\E{R00134}{c00005}\E{c00498}{R00948}
\draw[conn] (c00013) .. controls (780,3335) and (690,3395) .. (R00948);
\E{R00948}{c00103}\E{R00948}{c00002c}
\end{tikzpicture}
\end{document}
